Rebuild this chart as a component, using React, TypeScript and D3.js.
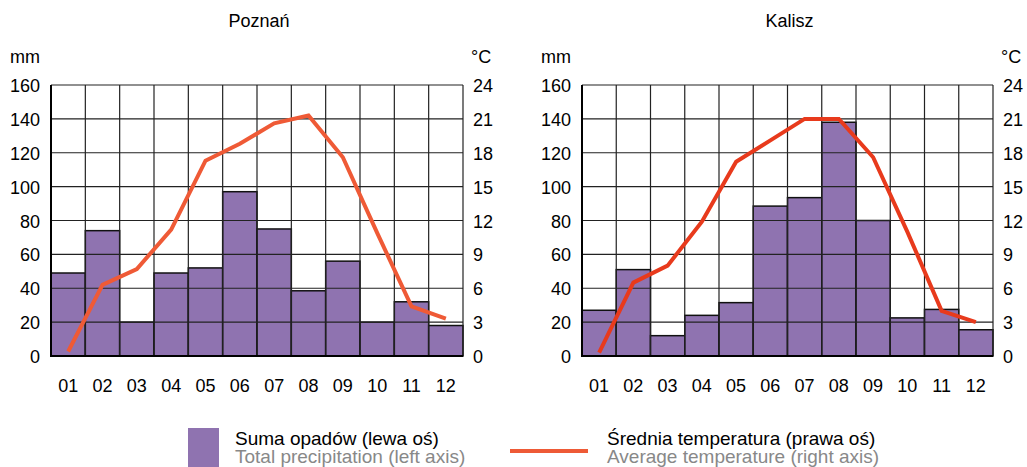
import { useEffect, useRef } from 'react';
import * as d3 from 'd3';

const months = ["01", "02", "03", "04", "05", "06", "07", "08", "09", "10", "11", "12"];
const mmTicks = [0, 20, 40, 60, 80, 100, 120, 140, 160];
const tempTicks = [0, 3, 6, 9, 12, 15, 18, 21, 24];

const poznanPrecip = [49, 74, 20, 49, 52, 97, 75, 38.5, 56, 20, 32, 18];
const poznanTemp = [0.4, 6.3, 7.7, 11.2, 17.3, 18.8, 20.6, 21.3, 17.6, 10.9, 4.4, 3.3];
const kaliszPrecip = [27, 51, 12, 24, 31.5, 88.5, 93.5, 138, 80, 22.5, 27.5, 15.5];
const kaliszTemp = [0.3, 6.5, 8.0, 11.9, 17.2, 19.1, 21.0, 21.0, 17.6, 11.0, 4.0, 3.0];

const FONT = "'Liberation Sans', Arial, sans-serif";
const BAR = "#8f73b0";

function drawChart(
  svg: d3.Selection<SVGSVGElement, unknown, null, undefined>,
  left: number,
  right: number,
  title: string,
  precip: number[],
  temp: number[],
  lineColor: string
) {
  const top = 85;
  const bottom = 356;
  const x = d3.scaleBand<string>().domain(months).range([left, right]).padding(0);
  const yMm = d3.scaleLinear().domain([0, 160]).range([bottom, top]);
  const yT = d3.scaleLinear().domain([0, 24]).range([bottom, top]);

  const g = svg.append("g");

  // bars
  g.selectAll("rect.bar")
    .data(precip)
    .enter()
    .append("rect")
    .attr("x", (_, i) => x(months[i])!)
    .attr("y", d => yMm(d))
    .attr("width", x.bandwidth())
    .attr("height", d => bottom - yMm(d))
    .attr("fill", BAR)
    .attr("stroke", "#111")
    .attr("stroke-width", 1.5);

  // grid
  g.selectAll("line.h")
    .data(mmTicks)
    .enter()
    .append("line")
    .attr("x1", left)
    .attr("x2", right)
    .attr("y1", d => yMm(d))
    .attr("y2", d => yMm(d))
    .attr("stroke", "#222")
    .attr("stroke-width", 1.2);

  const vLines = months.map(m => x(m)!).concat([right]);
  g.selectAll("line.v")
    .data(vLines)
    .enter()
    .append("line")
    .attr("x1", d => d)
    .attr("x2", d => d)
    .attr("y1", top)
    .attr("y2", bottom)
    .attr("stroke", "#222")
    .attr("stroke-width", 1.2);

  // axes frame
  g.append("line")
    .attr("x1", left).attr("x2", left).attr("y1", top).attr("y2", bottom + 1)
    .attr("stroke", "#000").attr("stroke-width", 2);
  g.append("line")
    .attr("x1", left).attr("x2", right).attr("y1", bottom).attr("y2", bottom)
    .attr("stroke", "#000").attr("stroke-width", 2);

  // temperature line
  const line = d3.line<number>()
    .x((_, i) => x(months[i])! + x.bandwidth() / 2)
    .y(d => yT(d));
  g.append("path")
    .datum(temp)
    .attr("d", line)
    .attr("fill", "none")
    .attr("stroke", lineColor)
    .attr("stroke-width", 4)
    .attr("stroke-linejoin", "miter");

  const text = (tx: number, ty: number, s: string, anchor: string, size = 18, fill = "#000") =>
    g.append("text")
      .attr("x", tx)
      .attr("y", ty)
      .attr("text-anchor", anchor)
      .attr("font-family", FONT)
      .attr("font-size", size)
      .attr("fill", fill)
      .text(s);

  text((left + right) / 2 + 2, 27, title, "middle");
  text(left - 41, 63, "mm", "start");
  text(right + 8, 63, "°C", "start");

  mmTicks.forEach(t => text(left - 11, yMm(t) + 7, String(t), "end"));
  tempTicks.forEach(t => text(right + 10, yT(t) + 7, String(t), "start"));
  months.forEach(m => text(x(m)! + x.bandwidth() / 2, 392, m, "middle"));
}

export default function App() {
  const svgRef = useRef<SVGSVGElement>(null);

  useEffect(() => {
    if (!svgRef.current) return;
    const svg = d3.select(svgRef.current);
    svg.selectAll("*").remove();

    drawChart(svg, 51, 463, "Poznań", poznanPrecip, poznanTemp, "#ef5a36");
    drawChart(svg, 582, 993, "Kalisz", kaliszPrecip, kaliszTemp, "#e83a1c");

    // legend
    const lg = svg.append("g");
    lg.append("rect")
      .attr("x", 188).attr("y", 428).attr("width", 31).attr("height", 40)
      .attr("fill", BAR);
    lg.append("line")
      .attr("x1", 510).attr("x2", 588).attr("y1", 451).attr("y2", 451)
      .attr("stroke", "#ee5a36").attr("stroke-width", 4);

    const items = [
      { x: 235, a: "Suma opadów (lewa oś)", b: "Total precipitation (left axis)" },
      { x: 607, a: "Średnia temperatura (prawa oś)", b: "Average temperature (right axis)" },
    ];
    items.forEach(it => {
      lg.append("text")
        .attr("x", it.x).attr("y", 445)
        .attr("font-family", FONT).attr("font-size", 19).attr("fill", "#000")
        .text(it.a);
      lg.append("text")
        .attr("x", it.x).attr("y", 463)
        .attr("font-family", FONT).attr("font-size", 19).attr("fill", "#888")
        .text(it.b);
    });
  }, []);

  return (
    <div style={{ position: "absolute", left: 0, top: 0 }}>
      <svg ref={svgRef} width={1027} height={467} style={{ display: "block", background: "#fff" }} />
    </div>
  );
}
